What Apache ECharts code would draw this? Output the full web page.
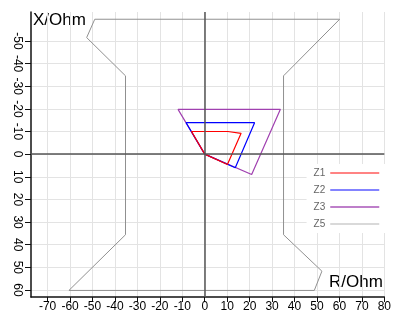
<!DOCTYPE html>
<html>
<head>
<meta charset="utf-8">
<script src="https://cdn.jsdelivr.net/npm/echarts@6/dist/echarts.min.js"></script>
<style>
  html, body { margin: 0; padding: 0; background: #fff; }
  #chart { width: 394px; height: 316px; }
</style>
</head>
<body>
<div id="chart"></div>
<script>
// zone polygons, [R, X] in Ohm
var z1 = [[0, 0], [-5.9, -10], [10.3, -10], [16.2, -9.2], [10.1, 4.6], [0, 0]];
var z2 = [[0, 0], [-8.3, -13.9], [22.2, -13.9], [13.6, 6], [0, 0]];
var z3 = [[0, 0], [-11.9, -19.8], [33.7, -19.8], [20.9, 9], [0, 0]];
var z5 = [[-49, -59.6], [-52.6, -51.5], [-35.3, -34.6], [-35.3, 35.6], [-60.5, 60.2],
  [48.8, 60.2], [52.2, 51.7], [35.1, 35.6], [35.1, -34.6], [60.1, -59.6], [-49, -59.6]];

var seriesNames = ['Z1', 'Z2', 'Z3', 'Z5'];
var xTicks = [-70, -60, -50, -40, -30, -20, -10, 0, 10, 20, 30, 40, 50, 60, 70, 80];
var yTicks = [-50, -40, -30, -20, -10, 0, 10, 20, 30, 40, 50, 60];

var chart = echarts.init(document.getElementById('chart'));

var option = {
  animation: false,
  grid: {
    left: 31,
    right: 5,
    top: 12,
    bottom: 19
  },
  legend: {
    data: [
      { name: 'Z1', lineStyle: { color: '#ff5a5a' } },
      { name: 'Z2', lineStyle: { color: '#5a5aff' } },
      { name: 'Z3', lineStyle: { color: '#a855b8' } },
      { name: 'Z5', lineStyle: { color: '#cccccc' } }
    ],
    orient: 'vertical',
    align: 'right',
    right: 7,
    top: 164,
    padding: [4, 7, 4, 7],
    itemWidth: 49,
    itemHeight: 10,
    itemGap: 7,
    backgroundColor: '#fff',
    itemStyle: { opacity: 0 },
    lineStyle: { width: 1.5 },
    textStyle: {
      color: '#666',
      fontSize: 10,
      width: 23
    }
  },
  graphic: [
    {
      type: 'text',
      left: 33,
      top: 12,
      style: { text: 'X/Ohm', fontSize: 17, fill: '#000', fontFamily: 'Liberation Sans' }
    },
    {
      type: 'text',
      left: 329,
      top: 274,
      style: { text: 'R/Ohm', fontSize: 17, fill: '#000', fontFamily: 'Liberation Sans' }
    }
  ],
  xAxis: {
    type: 'value',
    min: -77.4,
    max: 80,
    splitNumber: 15,
    axisLine: { onZero: false, lineStyle: { color: '#111', width: 1.5 } },
    axisTick: { length: 5, customValues: xTicks, lineStyle: { color: '#111' } },
    axisLabel: {
      customValues: xTicks,
      margin: 4,
      color: '#000',
      fontSize: 12
    },
    splitLine: { lineStyle: { color: '#e3e3e3' } }
  },
  yAxis: {
    type: 'value',
    inverse: true,
    min: -62.8,
    max: 63.1,
    splitNumber: 12,
    axisLine: { onZero: false, lineStyle: { color: '#111', width: 1.5 } },
    axisTick: { length: 6, customValues: yTicks, lineStyle: { color: '#111' } },
    axisLabel: {
      customValues: yTicks,
      rotate: -90,
      margin: 8,
      color: '#000',
      fontSize: 12
    },
    splitLine: { lineStyle: { color: '#e3e3e3' } }
  },
  series: [
    {
      name: 'Z5',
      type: 'line',
      symbol: 'none',
      color: '#909090',
      lineStyle: { width: 1 },
      data: z5,
      markLine: {
        silent: true,
        symbol: 'none',
        label: { show: false },
        lineStyle: { color: '#555', width: 1.5, type: 'solid' },
        data: [{ xAxis: 0 }, { yAxis: 0 }]
      }
    },
    {
      name: 'Z3',
      type: 'line',
      symbol: 'none',
      color: '#a040b0',
      lineStyle: { width: 1.2 },
      data: z3
    },
    {
      name: 'Z2',
      type: 'line',
      symbol: 'none',
      color: '#0000ff',
      lineStyle: { width: 1.2 },
      data: z2
    },
    {
      name: 'Z1',
      type: 'line',
      symbol: 'none',
      color: '#ff0000',
      lineStyle: { width: 1.2 },
      data: z1
    }
  ]
};

chart.setOption(option);
</script>
</body>
</html>
